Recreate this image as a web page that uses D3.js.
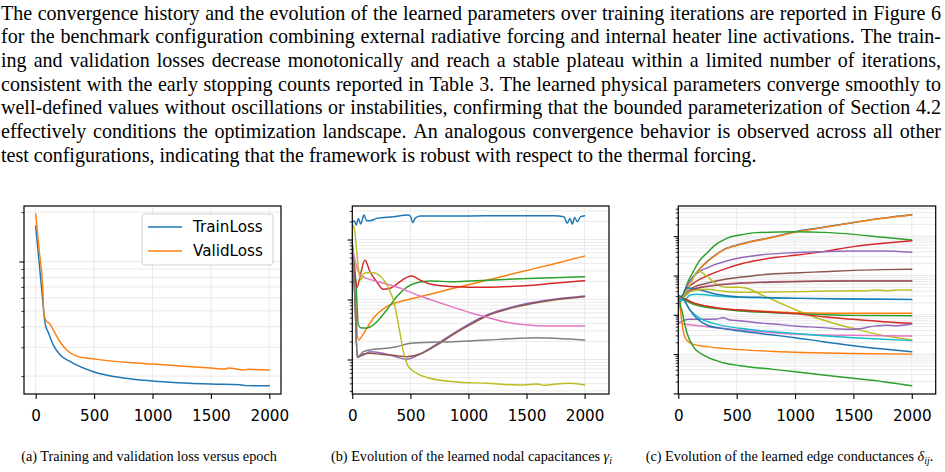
<!DOCTYPE html>
<html><head><meta charset="utf-8">
<script src="https://cdn.jsdelivr.net/npm/d3@7"></script>
<style>body{margin:0;background:#fff}svg{display:block}</style>
</head><body>
<svg id="c" width="945" height="472"></svg>
<script>
// ---------------- text ----------------
const paragraphLines = [
  "The convergence history and the evolution of the learned parameters over training iterations are reported in Figure 6",
  "for the benchmark configuration combining external radiative forcing and internal heater line activations. The train-",
  "ing and validation losses decrease monotonically and reach a stable plateau within a limited number of iterations,",
  "consistent with the early stopping counts reported in Table 3. The learned physical parameters converge smoothly to",
  "well-defined values without oscillations or instabilities, confirming that the bounded parameterization of Section 4.2",
  "effectively conditions the optimization landscape.  An analogous convergence behavior is observed across all other",
  "test configurations, indicating that the framework is robust with respect to the thermal forcing."
];
const captionA = "(a) Training and validation loss versus epoch";
const captionB = ["(b) Evolution of the learned nodal capacitances ", "γ", "i", ""];
const captionC = ["(c) Evolution of the learned edge conductances ", "δ", "ij", "."];
const epochTicks = [0, 500, 1000, 1500, 2000];
const legendLabels = ["TrainLoss", "ValidLoss"];

// ---------------- panel (a) data ----------------
const trainLoss = [[0,1.646],[30,0.979],[60,0.582],[80,0.421],[110,0.366],[150,0.310],[210,0.269],[300,0.244],[500,0.212],[750,0.195],[1000,0.187],[1500,0.179],[1750,0.177],[1800,0.175],[2000,0.1745]];
const validLoss = [[0,1.95],[30,1.175],[60,0.700],[71,0.472],[94,0.430],[117,0.420],[151,0.382],[208,0.324],[265,0.289],[351,0.265],[508,0.254],[1000,0.237],[1500,0.224],[1620,0.221],[1650,0.224],[1780,0.218],[1820,0.220],[2000,0.218]];

// ---------------- panel (b) data: nodal capacitances ----------------
const gamma1 = [[0,19.1],[17,20.6],[32,17.4],[52,22.5],[72,18.1],[101,25.6],[124,20.6],[152,20.6],[210,22.5],[353,24.0],[483,25.6],[503,24.0],[520,19.1],[540,22.5],[583,24.6],[871,24.6],[1158,24.9],[1446,24.9],[1733,24.9],[1822,24.0],[1851,18.6],[1874,22.5],[1894,18.1],[1914,23.4],[1937,19.8],[1966,24.0],[2000,24.9]];
const gamma2 = [[0,4.92],[15,2.11],[29,0.981],[43,0.256],[55,0.211],[80,0.240],[124,0.331],[181,0.486],[296,0.759],[468,0.981],[583,1.114],[871,1.54],[1158,2.09],[1446,2.87],[1733,3.91],[2000,5.31]];
const gamma3 = [[0,7.21],[32,1.88],[52,0.376],[80,0.335],[124,0.335],[181,0.376],[296,0.668],[382,1.114],[468,1.597],[555,1.905],[670,2.03],[871,1.98],[1015,2.03],[1446,2.22],[2000,2.40]];
const gamma4 = [[0,7.13],[23,2.40],[40,1.597],[66,2.40],[109,4.55],[152,2.90],[210,1.98],[267,1.479],[325,1.538],[411,1.98],[468,2.34],[512,2.46],[583,2.11],[670,1.81],[871,1.633],[1158,1.597],[1446,1.679],[1733,1.862],[2000,2.06]];
const gamma5 = [[0,8.65],[23,0.981],[43,0.1114],[95,0.1189],[152,0.1349],[239,0.1298],[353,0.1143],[468,0.1007],[583,0.1236],[727,0.1811],[871,0.2735],[1015,0.401],[1158,0.552],[1446,0.810],[1733,1.007],[2000,1.143]];
const gamma6 = [[0,8.65],[23,0.981],[43,0.108],[95,0.1236],[152,0.1268],[239,0.1222],[353,0.1175],[468,0.1114],[583,0.1236],[727,0.1744],[871,0.263],[1015,0.380],[1158,0.531],[1446,0.780],[1733,0.981],[2000,1.114]];
const gamma7 = [[0,7.59],[37,3.52],[80,2.46],[152,2.17],[296,1.81],[440,1.479],[583,1.143],[727,0.918],[871,0.741],[1015,0.603],[1158,0.505],[1302,0.427],[1446,0.386],[1589,0.366],[1733,0.361],[2000,0.361]];
const gamma8 = [[0,8.65],[23,0.981],[43,0.110],[95,0.1349],[181,0.148],[296,0.1538],[382,0.1633],[468,0.1811],[583,0.1905],[871,0.198],[1158,0.211],[1446,0.2256],[1589,0.2307],[1733,0.2256],[1877,0.2198],[2000,0.211]];
const gamma9 = [[0,17.5],[14,16.3],[37,6.68],[60,2.56],[75,2.11],[95,2.66],[124,2.80],[181,2.80],[239,2.46],[282,1.98],[325,1.349],[354,0.981],[382,0.552],[411,0.2735],[440,0.1349],[468,0.0865],[512,0.0668],[555,0.0589],[670,0.0486],[871,0.0427],[1158,0.0401],[1446,0.0376],[1589,0.0391],[1650,0.0372],[1733,0.0386],[1877,0.0401],[2000,0.0376]];

// ---------------- panel (c) data: edge conductances ----------------
const deltaBlue1 = [[0,1.61],[37,2.73],[71,5.20],[128,9.33],[214,18.5],[300,30.1],[385,44.6],[528,62.1],[813,96],[1000,130],[1241,168],[1500,224],[1755,288],[2000,350]];
const deltaOrange1 = [[0,1.65],[37,2.75],[71,5.1],[128,9.1],[214,18.0],[300,29.5],[385,44.0],[528,61.0],[813,93.5],[1000,125],[1241,165],[1500,221],[1755,285],[2000,346]];
const deltaGreen1 = [[0,2.16],[37,2.73],[71,5.73],[128,12.5],[186,24.8],[243,36.6],[300,54.2],[414,88.3],[528,107],[671,123],[1000,130],[1241,125],[1500,111],[1755,93.5],[2000,80.0]];
const deltaRed1 = [[0,2.38],[37,2.73],[71,4.45],[128,6.32],[243,9.70],[414,15.2],[557,20.4],[699,24.8],[842,29.0],[1000,32.6],[1241,40.4],[1500,54.2],[1755,65.8],[2000,76.9]];
const deltaPurple1 = [[0,2.16],[37,2.73],[71,5.20],[128,9.33],[271,16.8],[414,23.4],[557,29.0],[699,33.3],[985,38.1],[1241,40.4],[1500,42.0],[1755,42.0],[2000,38.8]];
const deltaBrown1 = [[0,2.38],[37,2.73],[71,3.66],[128,5.00],[243,6.32],[414,8.15],[528,8.98],[699,10.3],[1041,11.8],[1241,12.5],[1500,13.5],[1755,14.1],[2000,14.4]];
const deltaPink1 = [[0,2.62],[37,2.8],[128,4.6],[243,5.4],[528,6.5],[870,7.0],[1500,7.4],[2000,7.4]];
const deltaOlive1 = [[0,2.38],[37,2.89],[100,5.73],[171,13.0],[243,9.70],[328,5.96],[414,5.00],[528,5.00],[614,4.45],[699,3.38],[813,2.38],[956,1.55],[1099,1.03],[1241,0.736],[1384,0.550],[1498,0.453],[1670,0.337],[1841,0.267],[2000,0.229]];
const deltaCyan1 = [[0,2.16],[37,2.38],[71,2.62],[100,3.19],[157,3.32],[328,3.01],[528,2.78],[1041,2.62],[1500,2.52],[2000,2.43]];
const deltaBlue2 = [[0,2.38],[37,3.19],[71,4.90],[186,4.28],[328,3.32],[500,2.89],[699,2.78],[1041,2.62],[1500,2.52],[2000,2.47]];
const deltaOrange2 = [[0,2.62],[37,2.47],[128,1.88],[243,1.61],[385,1.43],[528,1.32],[813,1.20],[1000,1.13],[1500,1.09],[2000,1.09]];
const deltaGreen2 = [[0,3.19],[37,2.62],[128,1.88],[243,1.55],[385,1.38],[528,1.25],[813,1.13],[1000,1.07],[1241,1.01],[1500,0.968],[2000,0.950]];
const deltaRed2 = [[0,2.89],[37,2.73],[128,2.04],[243,1.67],[385,1.43],[528,1.32],[813,1.16],[1000,1.07],[1241,0.895],[1500,0.766],[1755,0.668],[2000,0.607]];
const deltaPurple2 = [[0,0.607],[43,0.708],[100,0.766],[214,0.766],[328,0.782],[385,0.845],[442,0.736],[528,0.708],[671,0.631],[813,0.583],[1000,0.519],[1241,0.471],[1384,0.436],[1500,0.427],[1584,0.453],[1641,0.499],[1698,0.519],[1784,0.540],[1869,0.529],[2000,0.583]];
const deltaBrown2 = [[0,2.62],[37,2.78],[128,4.45],[243,5.20],[528,6.32],[870,6.83],[1500,7.24],[2000,7.24]];
const deltaPink2 = [[0,0.668],[43,0.583],[100,0.561],[243,0.499],[385,0.453],[528,0.410],[813,0.351],[1000,0.324],[1241,0.306],[1500,0.300],[1755,0.294],[2000,0.288]];
const deltaOlive2 = [[0,2.89],[37,2.73],[100,3.88],[243,4.45],[385,3.95],[528,3.73],[813,3.80],[1000,3.88],[1500,4.11],[1600,4.05],[1700,4.25],[1800,4.10],[1900,4.30],[2000,4.28]];
const deltaCyan2 = [[0,2.38],[37,2.47],[100,1.32],[186,0.813],[300,0.607],[528,0.453],[813,0.372],[1000,0.337],[1241,0.294],[1500,0.262],[1755,0.238],[2000,0.220]];
const deltaBlue3 = [[0,3.19],[37,2.62],[100,1.32],[157,0.813],[243,0.550],[385,0.444],[528,0.387],[813,0.306],[1000,0.262],[1241,0.207],[1500,0.164],[1755,0.135],[2000,0.115]];
const deltaOrange3 = [[0,2.89],[14,1.61],[29,0.736],[43,0.372],[71,0.229],[128,0.177],[243,0.155],[385,0.140],[528,0.130],[813,0.117],[1000,0.111],[1500,0.104],[2000,0.100]];
const deltaGreen3 = [[0,2.62],[29,1.32],[71,0.372],[128,0.155],[243,0.0861],[385,0.0605],[528,0.0508],[813,0.0409],[1000,0.0357],[1241,0.0294],[1500,0.0242],[1755,0.0199],[2000,0.0157]];

// ---------------- styles ----------------
const C = {blue:"#1f77b4",orange:"#ff7f0e",green:"#2ca02c",red:"#d62728",purple:"#9467bd",brown:"#8c564b",pink:"#e377c2",gray:"#7f7f7f",olive:"#bcbd22",cyan:"#17becf"};
const serif = "'Liberation Serif','Times New Roman',Times,serif";
const sans = "'DejaVu Sans',Verdana,sans-serif";
const tickFont = 15.2;

const svg = d3.select("#c");
const probe = svg.append("text").attr("font-family", serif).attr("visibility","hidden");
function measure(str, size, family){ probe.attr("font-size", size).attr("font-family", family||serif).text(str); return probe.node().getComputedTextLength(); }

// ---------------- paragraph (justified) ----------------
const pSize = 20 * 756 / measure(paragraphLines[6], 20);
const pLeft = 1, pRight = 941;
paragraphLines.forEach((line, i) => {
  const t = svg.append("text").attr("font-family", serif).attr("font-size", pSize)
    .attr("y", 19.5 + i * 23.67).attr("fill", "#000");
  if (i === paragraphLines.length - 1) { t.attr("x", pLeft).text(line); return; }
  const words = line.split(/\s+/);
  const widths = words.map(w => measure(w, pSize));
  const gap = (pRight - pLeft - d3.sum(widths)) / (words.length - 1);
  let x = pLeft;
  words.forEach((w, j) => { t.append("tspan").attr("x", x).text(w); x += widths[j] + gap; });
});

// ---------------- panels ----------------
function panel(cfg) {
  const g = svg.append("g");
  const x = d3.scaleLinear().domain(cfg.xDomain).range([cfg.left, cfg.right]);
  const y = d3.scaleLog().domain(cfg.yDomain).range([cfg.bottom, cfg.top]);
  const yTicks = y.ticks();
  const isMajor = v => Math.abs(Math.log10(v) - Math.round(Math.log10(v))) < 1e-6;
  // grid
  g.append("g").selectAll("line").data(yTicks).join("line")
    .attr("x1", cfg.left).attr("x2", cfg.right).attr("y1", d => y(d)).attr("y2", d => y(d))
    .attr("stroke", "#e4e4e4").attr("stroke-width", 0.8);
  g.append("g").selectAll("line").data(epochTicks).join("line")
    .attr("x1", d => x(d)).attr("x2", d => x(d)).attr("y1", cfg.top).attr("y2", cfg.bottom)
    .attr("stroke", "#e4e4e4").attr("stroke-width", 0.8);
  // lines
  const clipId = "clip" + cfg.id;
  svg.append("clipPath").attr("id", clipId).append("rect")
    .attr("x", cfg.left).attr("y", cfg.top).attr("width", cfg.right - cfg.left).attr("height", cfg.bottom - cfg.top);
  const line = d3.line().x(d => x(d[0])).y(d => y(d[1])).curve(d3.curveMonotoneX);
  const lg = g.append("g").attr("clip-path", `url(#${clipId})`);
  cfg.series.forEach((s, i) => {
    lg.append("path").attr("d", line(s)).attr("fill", "none")
      .attr("stroke", cfg.colors[i]).attr("stroke-width", 1.45)
      .attr("stroke-linejoin", "round").attr("stroke-linecap", "round");
  });
  // axes
  const xAxis = d3.axisBottom(x).tickValues(epochTicks).tickSize(5).tickFormat(d3.format("d"));
  const xa = g.append("g").attr("transform", `translate(0,${cfg.bottom})`).call(xAxis);
  xa.select(".domain").remove();
  xa.selectAll(".tick line").attr("stroke", "#000").attr("stroke-width", 1.1);
  xa.selectAll(".tick text").attr("y", 26.5).attr("dy", null)
    .attr("font-family", sans).attr("font-size", tickFont).attr("fill", "#000");
  const yMinor = d3.axisLeft(y).tickValues(yTicks.filter(v => !isMajor(v))).tickSize(2.6).tickFormat("");
  const yMajor = d3.axisLeft(y).tickValues(yTicks.filter(isMajor)).tickSize(4.6).tickFormat("");
  [yMinor, yMajor].forEach((ax, k) => {
    const a = g.append("g").attr("transform", `translate(${cfg.left},0)`).call(ax);
    a.select(".domain").remove();
    a.selectAll(".tick line").attr("stroke", "#000").attr("stroke-width", k ? 1.1 : 0.8);
  });
  // spines
  g.append("rect").attr("x", cfg.left).attr("y", cfg.top)
    .attr("width", cfg.right - cfg.left).attr("height", cfg.bottom - cfg.top)
    .attr("fill", "none").attr("stroke", "#000").attr("stroke-width", 1.2);
  return {g, x, y};
}

const pa = panel({id:"a", left:24, right:281, top:206, bottom:394, xDomain:[-100,2100], yDomain:[0.1556,2.18],
  series:[trainLoss, validLoss], colors:[C.blue, C.orange]});
panel({id:"b", left:352.3, right:609, top:206, bottom:394, xDomain:[0,2210], yDomain:[0.0266,36.2],
  series:[gamma1,gamma2,gamma3,gamma4,gamma5,gamma6,gamma7,gamma8,gamma9],
  colors:[C.blue,C.orange,C.green,C.red,C.purple,C.brown,C.pink,C.gray,C.olive]});
panel({id:"c", left:678.3, right:935.7, top:206, bottom:394, xDomain:[0,2205], yDomain:[0.00966,586],
  series:[deltaBlue1,deltaOrange1,deltaGreen1,deltaRed1,deltaPurple1,deltaBrown1,deltaPink1,deltaOlive1,deltaCyan1,
          deltaBlue2,deltaOrange2,deltaGreen2,deltaRed2,deltaPurple2,deltaBrown2,deltaPink2,deltaOlive2,deltaCyan2,
          deltaBlue3,deltaOrange3,deltaGreen3],
  colors:[C.blue,C.orange,C.green,C.red,C.purple,C.brown,C.pink,C.olive,C.cyan,
          C.blue,C.orange,C.green,C.red,C.purple,C.brown,C.pink,C.olive,C.cyan,
          C.blue,C.orange,C.green]});

// legend (panel a)
const lgd = pa.g.append("g");
lgd.append("rect").attr("x", 142).attr("y", 214).attr("width", 131).attr("height", 51).attr("rx", 3)
  .attr("fill", "#fff").attr("fill-opacity", 0.8).attr("stroke", "#d0d0d0").attr("stroke-width", 1);
legendLabels.forEach((lab, i) => {
  const yy = 227 + i * 24;
  lgd.append("line").attr("x1", 148).attr("x2", 182).attr("y1", yy).attr("y2", yy)
    .attr("stroke", [C.blue, C.orange][i]).attr("stroke-width", 1.45);
  lgd.append("text").attr("x", 193).attr("y", yy + 5.4).attr("font-family", sans)
    .attr("font-size", tickFont).attr("fill", "#000").text(lab);
});

// captions
const capSize = 12 * 256 / measure(captionA, 12);
svg.append("text").attr("x", 149).attr("y", 461).attr("text-anchor", "middle")
  .attr("font-family", serif).attr("font-size", capSize).attr("fill", "#000").text(captionA);
function greekCaption(parts, cx) {
  const t = svg.append("text").attr("x", cx).attr("y", 461).attr("text-anchor", "middle")
    .attr("font-family", serif).attr("font-size", capSize).attr("fill", "#000");
  t.append("tspan").text(parts[0]);
  t.append("tspan").attr("font-style", "italic").text(parts[1]);
  t.append("tspan").attr("font-style", "italic").attr("font-size", capSize * 0.7).attr("dy", 2.5).text(parts[2]);
  t.append("tspan").attr("dy", -2.5).text(parts[3]);
}
greekCaption(captionB, 471.5);
greekCaption(captionC, 789.5);
probe.remove();
</script>
</body></html>
